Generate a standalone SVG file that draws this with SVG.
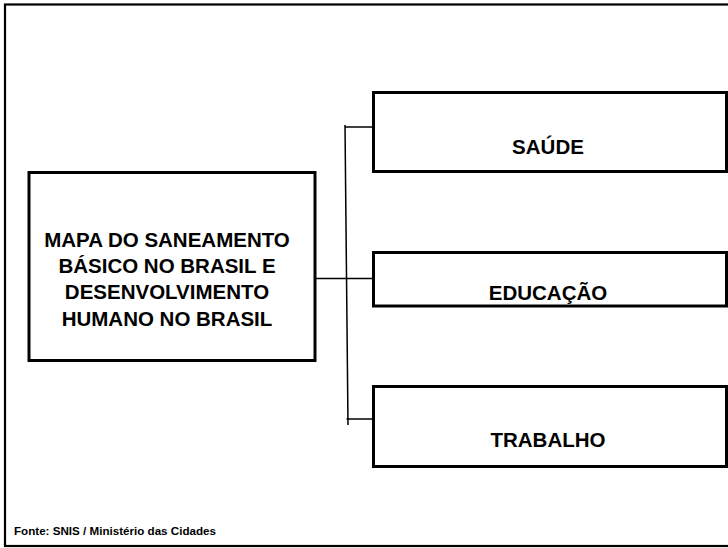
<svg xmlns="http://www.w3.org/2000/svg" width="728" height="548" viewBox="0 0 728 548">
<style>
.box{fill:#fff;stroke:#000;stroke-width:3}
.lbl{font-family:"Liberation Sans",Arial,sans-serif;font-weight:bold;font-size:20.5px;fill:#000;text-anchor:middle}
.ln{stroke:#000;stroke-width:1.5;fill:none}
</style>
<rect width="728" height="548" fill="#fff"/>
<rect x="5" y="4.5" width="730" height="541.5" fill="none" stroke="#000" stroke-width="2.2"/>
<g id="connectors">
<line class="ln" x1="315" y1="278.5" x2="373" y2="278.5"/>
<line class="ln" x1="345" y1="125" x2="348" y2="425"/>
<line class="ln" x1="345" y1="127" x2="373" y2="127"/>
<line class="ln" x1="346.5" y1="419" x2="373" y2="419"/>
</g>
<g id="main">
<rect class="box" x="29" y="172.5" width="286" height="188"/>
<text class="lbl" x="167" y="247">MAPA DO SANEAMENTO</text>
<text class="lbl" x="167" y="272.5">BÁSICO NO BRASIL E</text>
<text class="lbl" x="167" y="299">DESENVOLVIMENTO</text>
<text class="lbl" x="167" y="325.5">HUMANO NO BRASIL</text>
</g>
<g id="saude">
<rect class="box" x="373.5" y="92.5" width="353" height="79"/>
<text class="lbl" x="548" y="154">SAÚDE</text>
</g>
<g id="educacao">
<rect class="box" x="373.5" y="252.5" width="353" height="53.5"/>
<text class="lbl" x="548" y="300">EDUCAÇÃO</text>
</g>
<g id="trabalho">
<rect class="box" x="373.5" y="386.5" width="353" height="80"/>
<text class="lbl" x="548" y="447">TRABALHO</text>
</g>
<text x="14" y="535" font-family="'Liberation Sans',Arial,sans-serif" font-weight="bold" font-size="10.5" textLength="202" lengthAdjust="spacingAndGlyphs">Fonte: SNIS / Ministério das Cidades</text>
</svg>
